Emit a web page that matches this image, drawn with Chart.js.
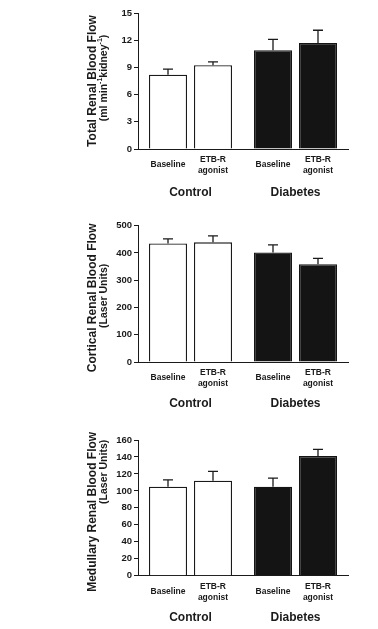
<!DOCTYPE html>
<html><head><meta charset="utf-8">
<script src="https://cdn.jsdelivr.net/npm/chart.js@4.4.1/dist/chart.umd.min.js"></script>
<style>
html,body{margin:0;padding:0;background:#fff;width:378px;height:629px;overflow:hidden}
.p{position:absolute;left:0;width:378px}
canvas{display:block}
</style></head><body>
<div class="p" style="top:0px"><canvas id="c1" width="378" height="207"></canvas></div>
<div class="p" style="top:212px"><canvas id="c2" width="378" height="210"></canvas></div>
<div class="p" style="top:425px"><canvas id="c3" width="378" height="204"></canvas></div>
<script>
// ---- data ----
const groups = ['Control', 'Diabetes'];
const treatments = [['Baseline'], ['ETB-R', 'agonist']];

const totalBaseline = [8.2, 10.9];
const totalBaselineErr = [0.6, 1.2];
const totalAgonist = [9.25, 11.7];
const totalAgonistErr = [0.35, 1.4];
const totalTicks = [0, 3, 6, 9, 12, 15];

const corticalBaseline = [435, 402];
const corticalBaselineErr = [17, 28];
const corticalAgonist = [439, 359];
const corticalAgonistErr = [24, 21];
const corticalTicks = [0, 100, 200, 300, 400, 500];

const medullaryBaseline = [105, 105];
const medullaryBaselineErr = [8, 10];
const medullaryAgonist = [112, 141];
const medullaryAgonistErr = [11, 8];
const medullaryTicks = [0, 20, 40, 60, 80, 100, 120, 140, 160];

const totalTitle = 'Total Renal Blood Flow';
const totalUnit = [['(ml min', false], ['-1', true], ['kidney', false], ['-1', true], [')', false]];
const corticalTitle = 'Cortical Renal Blood Flow';
const corticalUnit = [['(Laser Units)', false]];
const medullaryTitle = 'Medullary Renal Blood Flow';
const medullaryUnit = [['(Laser Units)', false]];

// ---- styling ----
const FONT = "'Liberation Sans', Arial, Helvetica, sans-serif";
const NARROW = "'Liberation Sans Narrow', 'Arial Narrow', 'Liberation Sans', Arial, sans-serif";
const INK = '#1a1a1a';
const groupFill = ['#ffffff', '#141414'];
const groupBorder = ['#1a1a1a', '#141414'];

const errorBars = {
  id: 'errorBars',
  afterDatasetsDraw(chart) {
    const ctx = chart.ctx, ys = chart.scales.y;
    chart.data.datasets.forEach((ds, i) => {
      const meta = chart.getDatasetMeta(i);
      meta.data.forEach((bar, j) => {
        const top = ys.getPixelForValue(ds.data[j] + ds.errs[j]);
        ctx.save();
        ctx.strokeStyle = INK;
        ctx.lineWidth = 1.3;
        ctx.beginPath();
        ctx.moveTo(bar.x, bar.y);
        ctx.lineTo(bar.x, top);
        ctx.moveTo(bar.x - 5, top);
        ctx.lineTo(bar.x + 5, top);
        ctx.stroke();
        ctx.restore();
      });
    });
  }
};

const subLabels = {
  id: 'subLabels',
  afterDraw(chart) {
    const ctx = chart.ctx, bottom = chart.chartArea.bottom;
    ctx.save();
    ctx.fillStyle = INK;
    ctx.font = 'bold 8.5px ' + NARROW;
    ctx.textAlign = 'center';
    ctx.textBaseline = 'middle';
    chart.data.datasets.forEach((ds, i) => {
      const meta = chart.getDatasetMeta(i);
      const lines = treatments[i];
      meta.data.forEach(bar => {
        if (lines.length === 1) {
          ctx.fillText(lines[0], bar.x, bottom + 16);
        } else {
          lines.forEach((l, k) => ctx.fillText(l, bar.x, bottom + 11 + k * 11));
        }
      });
    });
    ctx.restore();
  }
};

const yTitles = {
  id: 'yTitles',
  afterDraw(chart) {
    const o = chart.options.plugins.yTitles;
    const ctx = chart.ctx, area = chart.chartArea;
    const cy = (area.top + area.bottom) / 2;
    ctx.save();
    ctx.fillStyle = INK;
    ctx.save();
    ctx.translate(92.5, cy + o.dy1);
    ctx.rotate(-Math.PI / 2);
    ctx.font = 'bold 12px ' + FONT;
    ctx.textAlign = 'center';
    ctx.textBaseline = 'middle';
    ctx.fillText(o.title, 0, 0);
    ctx.restore();
    const big = 'bold 10.5px ' + FONT, small = 'bold 7px ' + FONT;
    let w = 0;
    o.unit.forEach(([t, sup]) => { ctx.font = sup ? small : big; w += ctx.measureText(t).width; });
    ctx.save();
    ctx.translate(104, cy + o.dy2);
    ctx.rotate(-Math.PI / 2);
    ctx.textAlign = 'left';
    ctx.textBaseline = 'middle';
    let x = -w / 2;
    o.unit.forEach(([t, sup]) => {
      ctx.font = sup ? small : big;
      ctx.fillText(t, x, sup ? -3.5 : 0);
      x += ctx.measureText(t).width;
    });
    ctx.restore();
    ctx.restore();
  }
};

function makeChart(id, cfg) {
  const canvas = document.getElementById(id);
  const H = canvas.height;
  return new Chart(canvas, {
    type: 'bar',
    data: {
      labels: groups,
      datasets: [
        { label: 'Baseline', data: cfg.base, errs: cfg.baseErr,
          backgroundColor: groupFill, borderColor: groupBorder, borderWidth: 1.3, borderSkipped: 'bottom' },
        { label: 'ETB-R agonist', data: cfg.ag, errs: cfg.agErr,
          backgroundColor: groupFill, borderColor: groupBorder, borderWidth: 1.3, borderSkipped: 'bottom' }
      ]
    },
    options: {
      responsive: false,
      animation: false,
      devicePixelRatio: 1,
      layout: { padding: { top: cfg.top, left: 0, right: 30, bottom: 0 } },
      datasets: { bar: { categoryPercentage: 0.857, barPercentage: 0.845 } },
      plugins: {
        legend: { display: false },
        tooltip: { enabled: false },
        yTitles: { title: cfg.title, unit: cfg.unit, dy1: cfg.dy1, dy2: cfg.dy2 }
      },
      scales: {
        x: {
          grid: { display: false, drawTicks: false },
          border: { display: true, color: INK, width: 1 },
          ticks: { color: INK, font: { family: FONT, size: 12, weight: 'bold' }, padding: cfg.groupPad, maxRotation: 0 },
          afterFit(s) { s.height = H - cfg.bottom; s.paddingLeft = 0; s.paddingRight = 0; }
        },
        y: {
          min: 0,
          max: cfg.ticks[cfg.ticks.length - 1],
          afterBuildTicks(s) { s.ticks = cfg.ticks.map(v => ({ value: v })); },
          grid: { display: true, drawOnChartArea: false, drawTicks: true, tickLength: 4, color: INK, lineWidth: 1 },
          border: { display: true, color: INK, width: 1 },
          ticks: { color: INK, font: { family: FONT, size: 9.5, weight: 'bold' }, padding: 2 },
          afterFit(s) { s.width = 138; s.paddingTop = 0; s.paddingBottom = 0; }
        }
      }
    },
    plugins: [errorBars, subLabels, yTitles]
  });
}

makeChart('c1', { base: totalBaseline, baseErr: totalBaselineErr, ag: totalAgonist, agErr: totalAgonistErr,
  ticks: totalTicks, title: totalTitle, unit: totalUnit, top: 13, bottom: 149, groupPad: 36, dy1: 0, dy2: -3 });
makeChart('c2', { base: corticalBaseline, baseErr: corticalBaselineErr, ag: corticalAgonist, agErr: corticalAgonistErr,
  ticks: corticalTicks, title: corticalTitle, unit: corticalUnit, top: 13.7, bottom: 150, groupPad: 34, dy1: 4, dy2: 2 });
makeChart('c3', { base: medullaryBaseline, baseErr: medullaryBaselineErr, ag: medullaryAgonist, agErr: medullaryAgonistErr,
  ticks: medullaryTicks, title: medullaryTitle, unit: medullaryUnit, top: 15, bottom: 150.7, groupPad: 35, dy1: 4, dy2: -36 });
</script>
</body></html>
